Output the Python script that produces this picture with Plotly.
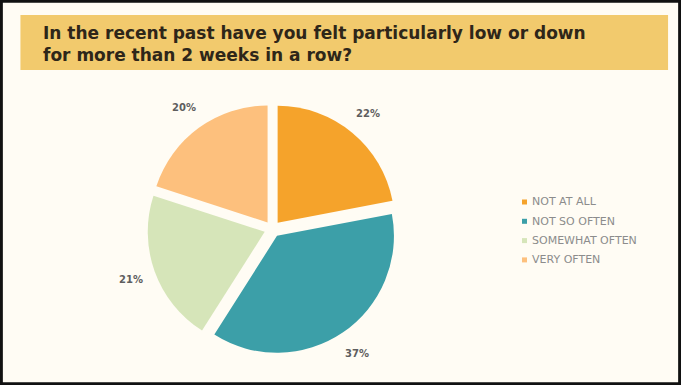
import math
import plotly.graph_objects as go

categories = ["NOT AT ALL", "NOT SO OFTEN", "SOMEWHAT OFTEN", "VERY OFTEN"]
shares = [22, 37, 21, 20]
colors = ["#F5A32B", "#3C9FA8", "#D6E5B9", "#FDC07D"]
title_text = "In the recent past have you felt particularly low or down<br>for more than 2 weeks in a row?"

W, H = 681, 385
pie_x = [0.16, 0.64]
pie_y = [0.08, 0.73]

fig = go.Figure()
fig.add_trace(go.Pie(
    labels=categories,
    values=shares,
    marker=dict(colors=colors, line=dict(width=0)),
    sort=False,
    direction="clockwise",
    rotation=0,
    pull=[0.07, 0.07, 0.07, 0.07],
    textinfo="none",
    domain=dict(x=pie_x, y=pie_y),
    hoverinfo="label+percent",
    showlegend=False,
))

shapes = [
    dict(type="rect", xref="paper", yref="paper",
         x0=0.03, x1=0.981, y0=1 - 70 / H, y1=1 - 15 / H,
         fillcolor="#F2CA6D", line=dict(width=0), layer="below"),
    dict(type="rect", xref="paper", yref="paper",
         x0=0.002, x1=0.998, y0=0.003, y1=0.997,
         line=dict(color="#111111", width=3), fillcolor="rgba(0,0,0,0)"),
]
annotations = [
    dict(text="<b>" + title_text + "</b>", xref="paper", yref="paper",
         x=41 / W, y=1 - 21 / H, xanchor="left", yanchor="top",
         align="left", showarrow=False,
         font=dict(family="DejaVu Sans", size=17, color="#2E2619")),
]

# Percentage labels placed outside each slice, at the slice's mid-angle
cx = (pie_x[0] + pie_x[1]) / 2 * W
cy = (1 - (pie_y[0] + pie_y[1]) / 2) * H
label_r = 150
total = sum(shares)
cum = 0
for v in shares:
    mid = (cum + v / 2) / total * 2 * math.pi
    cum += v
    lx = cx + label_r * math.sin(mid)
    ly = cy - label_r * math.cos(mid)
    annotations.append(dict(text="<b>%d%%</b>" % v, xref="paper", yref="paper",
                            x=lx / W, y=1 - ly / H, xanchor="center", yanchor="middle",
                            showarrow=False,
                            font=dict(family="DejaVu Sans", size=10, color="#5E5E5E")))

# Legend: small square swatches with uppercase labels
legend_x = 522
legend_y0 = 202
legend_step = 19.3
for i, (name, col) in enumerate(zip(categories, colors)):
    ry = legend_y0 + i * legend_step
    shapes.append(dict(type="rect", xref="paper", yref="paper",
                       x0=legend_x / W, x1=(legend_x + 5) / W,
                       y0=1 - (ry + 2.5) / H, y1=1 - (ry - 2.5) / H,
                       fillcolor=col, line=dict(width=0)))
    annotations.append(dict(text=name, xref="paper", yref="paper",
                            x=(legend_x + 8) / W, y=1 - ry / H,
                            xanchor="left", yanchor="middle", showarrow=False,
                            font=dict(family="DejaVu Sans", size=11, color="#8C8C8C")))

fig.update_layout(
    width=W, height=H,
    margin=dict(l=0, r=0, t=0, b=0),
    paper_bgcolor="#FFFCF4",
    plot_bgcolor="#FFFCF4",
    showlegend=False,
    shapes=shapes,
    annotations=annotations,
)

fig.write_html("out.html")
